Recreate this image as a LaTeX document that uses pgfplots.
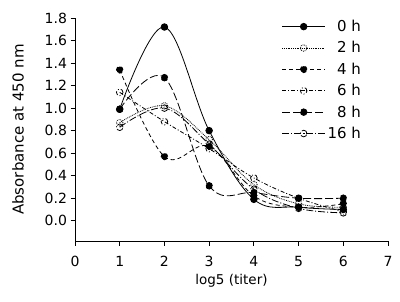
\documentclass[border=0pt]{standalone}
\usepackage{fontspec}
\setmainfont{DejaVu Sans}
\usepackage{pgfplots}
\pgfplotsset{compat=1.18}
\usetikzlibrary{calc}
\begin{document}
\begin{tikzpicture}
\begin{axis}[
  name=ax,
  scale only axis,
  width=313bp, height=223bp,
  xmin=0, xmax=7, ymin=-0.18, ymax=1.8,
  axis lines*=left,
  axis line style={line width=0.8bp},
  tick align=outside,
  major tick length=4.5bp,
  tick style={line width=0.8bp, black},
  xtick={0,1,...,7},
  ytick={0,0.2,...,1.8},
  yticklabel style={/pgf/number format/.cd,fixed,fixed zerofill,precision=1},
  xticklabel style={yshift=-7bp},
  /pgf/number format/assume math mode=true,
  ticklabel style={font=\fontsize{14bp}{16bp}\selectfont},
  xlabel={log5 (titer)},
  ylabel={Absorbance at 450 nm},
  xlabel style={at={(axis description cs:0.5,-0.1794)}, anchor=center, font=\fontsize{13.5bp}{16bp}\selectfont},
  ylabel style={at={(axis description cs:-0.182,0.5)}, anchor=center, font=\fontsize{15bp}{16bp}\selectfont},
  every axis plot/.append style={black, line width=0.8bp, smooth, tension=0.6, mark size=3.3bp, mark options={solid, line width=0.8bp}},
  legend style={draw=none, fill=none, at={(axis cs:4.62,1.80)}, anchor=north west,
    inner sep=0pt, row sep=4.5bp, font=\fontsize{15bp}{16bp}\selectfont,
    /tikz/every even column/.append style={column sep=0bp}},
  legend cell align=right,
  legend image code/.code={\draw[mark repeat=2,mark phase=2] plot[sharp plot] coordinates {(0bp,0bp) (21.5bp,0bp) (43bp,0bp)};},
  clip=false,
]
% 0 h
\addplot[solid, mark=*, mark options={fill=black}] coordinates {(1,0.99) (2,1.72) (3,0.80) (4,0.19) (5,0.12) (6,0.10)};
\addlegendentry{0 h}
% 2 h
\addplot[densely dotted, mark=o, mark options={fill=white}] coordinates {(1,0.87) (2,1.02) (3,0.72) (4,0.32) (5,0.15) (6,0.12)};
\addlegendentry{2 h}
% 4 h
\addplot[dash pattern=on 4bp off 3bp, mark=*, mark options={fill=black}] coordinates {(1,1.34) (2,0.57) (3,0.66) (4,0.22) (5,0.12) (6,0.15)};
\addlegendentry{4 h}
% 6 h
\addplot[dash pattern=on 4bp off 2bp on 1bp off 2bp, mark=o, mark options={fill=white}] coordinates {(1,1.14) (2,0.88) (3,0.64) (4,0.38) (5,0.20) (6,0.08)};
\addlegendentry{6 h}
% 8 h
\addplot[dash pattern=on 8bp off 3bp, mark=*, mark options={fill=black}] coordinates {(1,0.99) (2,1.27) (3,0.31) (4,0.25) (5,0.20) (6,0.20)};
\addlegendentry{8 h}
% 16 h
\addplot[dash pattern=on 7bp off 2bp on 1bp off 2bp, mark=o, mark options={fill=white}] coordinates {(1,0.83) (2,1.00) (3,0.68) (4,0.28) (5,0.11) (6,0.07)};
\addlegendentry{16 h}
\end{axis}
\pgfresetboundingbox
\path ($(ax.south west)+(-75bp,-60bp)$) rectangle ($(ax.north east)+(12bp,18bp)$);
\end{tikzpicture}
\end{document}
